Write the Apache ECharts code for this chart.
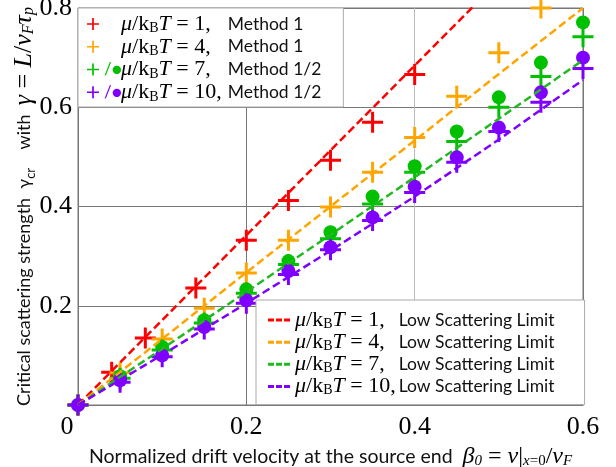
<html>
<head>
    <script src="https://cdn.jsdelivr.net/npm/echarts@6.0.0/dist/echarts.min.js"></script>
    <style>
        body { margin: 0 }
        #chart { width: 616px; height: 467px; }
    </style>
</head>
<body>
    <div id="chart"></div>
    <script>
        const chart = echarts.init(document.getElementById('chart'));

        // Method 1 crosses, mu/kBT = 1 (irregular x)
        const redX = [0, 0.04, 0.08, 0.14, 0.2, 0.25, 0.3, 0.35, 0.4];
        const redY = [0, 0.066, 0.135, 0.236, 0.332, 0.412, 0.493, 0.570, 0.666];

        // common beta grid for the other sets
        const betaX = [0, 0.05, 0.1, 0.15, 0.2, 0.25, 0.3, 0.35, 0.4, 0.45, 0.5, 0.55, 0.6];
        const orangeY = [0, 0.065, 0.133, 0.195, 0.266, 0.332, 0.399, 0.469, 0.539, 0.622, 0.710, 0.800];
        const greenCrossY = [0, 0.054, 0.111, 0.165, 0.225, 0.283, 0.335, 0.405, 0.469, 0.531, 0.600, 0.662, 0.742];
        const greenDotY = [0, 0.058, 0.117, 0.171, 0.233, 0.290, 0.348, 0.420, 0.481, 0.551, 0.620, 0.690, 0.771];
        const purpleCrossY = [0, 0.046, 0.097, 0.153, 0.205, 0.263, 0.313, 0.372, 0.428, 0.489, 0.551, 0.610, 0.678];
        const purpleDotY = [0, 0.050, 0.100, 0.157, 0.211, 0.270, 0.318, 0.378, 0.440, 0.499, 0.559, 0.630, 0.700];

        // low scattering limit curves
        const limitX = [0, 0.1, 0.2, 0.3, 0.4, 0.5, 0.6];
        const limitRed = [0, 0.171, 0.342, 0.513, 0.684, 0.855, 1.026];
        const limitOrange = [0, 0.133, 0.267, 0.400, 0.533, 0.667, 0.800];
        const limitGreen = [0, 0.113, 0.228, 0.343, 0.459, 0.577, 0.695];
        const limitPurple = [0, 0.101, 0.205, 0.311, 0.420, 0.535, 0.655];

        const RED = '#ff0000', ORANGE = '#ffa500', GREEN = '#00c000', PURPLE = '#8000ff';
        const serif = 'Liberation Serif';
        const sans = 'Lato';
        const plus = 'path://M9,0h3v9h9v3h-9v9h-3v-9h-9v-3h9z';
        const dashes = 'path://M0,0h6v3h-6z M8,0h6v3h-6z M16,0h6v3h-6z';

        const pair = (xs, ys) => ys.map((y, i) => [xs[i], y]);

        const legendRich = (lh, eW) => ({
            m: { fontFamily: serif, fontStyle: 'italic', fontSize: 22, lineHeight: lh, color: '#000' },
            r: { fontFamily: serif, fontSize: 22, lineHeight: lh, color: '#000' },
            b: { fontFamily: serif, fontSize: 14, lineHeight: 14, verticalAlign: 'bottom', color: '#000' },
            e: { fontFamily: serif, fontSize: 22, lineHeight: lh, width: eW, color: '#000' },
            t: { fontFamily: sans, fontSize: 17.5, lineHeight: lh, color: '#111' },
            w: { fontSize: 16, width: 17 },
            g: { fontFamily: sans, fontSize: 17, width: 17, color: GREEN },
            p: { fontFamily: sans, fontSize: 17, width: 17, color: PURPLE }
        });
        const mu = '{m|μ}{r|/k}{b|B}{m|T}';

        const topLabels = {
            'm1': '{w| }' + mu + '{e| = 1,}{t|Method 1}',
            'm4': '{w| }' + mu + '{e| = 4,}{t|Method 1}',
            'm7': '{g|/●}' + mu + '{e| = 7,}{t|Method 1/2}',
            'm10': '{p|/●}' + mu + '{e| = 10,}{t|Method 1/2}'
        };
        const bottomLabels = {
            'l1': mu + '{e| = 1,}{t|Low Scattering Limit}',
            'l4': mu + '{e| = 4,}{t|Low Scattering Limit}',
            'l7': mu + '{e| = 7,}{t|Low Scattering Limit}',
            'l10': mu + '{e| = 10,}{t|Low Scattering Limit}'
        };

        const crosses = (name, color, data) => ({
            name: name, type: 'scatter', data: data, symbol: plus, symbolSize: 21,
            itemStyle: { color: color, opacity: 1 }, z: 3
        });
        const dots = (name, color, data) => ({
            name: name, type: 'scatter', data: data, symbol: 'circle', symbolSize: 14,
            itemStyle: { color: color, opacity: 1 }, z: 4
        });
        const limit = (name, color, data) => ({
            name: name, type: 'line', data: data, symbol: 'none',
            lineStyle: { color: color, width: 2.5, type: [8, 4] },
            itemStyle: { color: color }, z: 5
        });

        const option = {
            animation: false,
            grid: {
                left: 78, right: 33, top: 8, bottom: 62,
                outerBoundsMode: 'none',
                show: true, borderColor: '#777', borderWidth: 1
            },
            xAxis: {
                type: 'value', min: 0, max: 0.6, interval: 0.2,
                axisLine: { lineStyle: { color: '#777' } },
                axisTick: { show: false },
                splitLine: { lineStyle: { color: ['#777', '#777', '#bbb', '#777'], width: 1 } },
                axisLabel: {
                    margin: 9,
                    fontFamily: serif, fontSize: 26, color: '#000',
                    formatter: v => v === 0 ? '{z|0}' : String(v),
                    rich: { z: { fontFamily: serif, fontSize: 26, color: '#000', padding: [0, 22, 0, 0] } }
                },
                name: '{s|Normalized drift velocity at the source end  }{m|β}{ms|0}{r| = }{m|v}{r||}{ms|x}{bs|=0}{r|/}{m|v}{ms|F}',
                nameLocation: 'middle',
                nameGap: 40,
                nameMoveOverlap: false,
                nameTextStyle: {
                    rich: {
                        s: { fontFamily: sans, fontSize: 19.5, lineHeight: 24, color: '#111' },
                        m: { fontFamily: serif, fontStyle: 'italic', fontSize: 24, lineHeight: 24, color: '#000' },
                        r: { fontFamily: serif, fontSize: 24, lineHeight: 24, color: '#000' },
                        ms: { fontFamily: serif, fontStyle: 'italic', fontSize: 15, lineHeight: 14, verticalAlign: 'bottom', color: '#000' },
                        bs: { fontFamily: serif, fontSize: 15, lineHeight: 14, verticalAlign: 'bottom', color: '#000' }
                    }
                }
            },
            yAxis: {
                type: 'value', min: 0, max: 0.8, interval: 0.2,
                axisLine: { show: true, lineStyle: { color: '#777' } },
                axisTick: { show: false },
                splitLine: { lineStyle: { color: '#777', width: 1 } },
                axisLabel: {
                    showMinLabel: false, margin: 6,
                    fontFamily: serif, fontSize: 26, color: '#000'
                },
                name: '{s|Critical scattering strength  γ}{ss|cr}{s|    with  }{m|γ}{r| = }{m|L}{r|/}{m|v}{ms|F}{m|τ}{ms|p}',
                nameLocation: 'middle',
                nameRotate: 90,
                nameGap: 41,
                nameMoveOverlap: false,
                nameTextStyle: {
                    rich: {
                        s: { fontFamily: sans, fontSize: 18, lineHeight: 26, color: '#111' },
                        ss: { fontFamily: sans, fontSize: 13, lineHeight: 14, verticalAlign: 'bottom', color: '#111' },
                        m: { fontFamily: serif, fontStyle: 'italic', fontSize: 26, lineHeight: 26, color: '#000' },
                        r: { fontFamily: serif, fontSize: 26, lineHeight: 26, color: '#000' },
                        ms: { fontFamily: serif, fontStyle: 'italic', fontSize: 16, lineHeight: 16, verticalAlign: 'bottom', color: '#000' }
                    }
                }
            },
            legend: [
                {
                    data: ['m1', 'm4', 'm7', 'm10'],
                    orient: 'vertical', left: 78, top: 8,
                    itemWidth: 12, itemHeight: 12, itemGap: 0,
                    padding: [5, 22, 3, 9],
                    backgroundColor: '#fff', borderColor: '#aaa', borderWidth: 1,
                    selectedMode: false,
                    formatter: name => topLabels[name],
                    textStyle: { rich: legendRich(23.5, 57) }
                },
                {
                    data: ['l1', 'l4', 'l7', 'l10'].map(n => ({ name: n, icon: dashes })),
                    orient: 'vertical', left: 256, top: 300,
                    itemWidth: 22, itemHeight: 3, itemGap: 0,
                    padding: [9, 30, 7, 12],
                    backgroundColor: '#fff', borderColor: '#aaa', borderWidth: 1,
                    selectedMode: false,
                    formatter: name => bottomLabels[name],
                    textStyle: { rich: legendRich(22.3, 54) }
                }
            ],
            series: [
                crosses('m1', RED, pair(redX, redY)),
                crosses('m4', ORANGE, pair(betaX, orangeY)),
                crosses('m7', GREEN, pair(betaX, greenCrossY)),
                crosses('m10', PURPLE, pair(betaX, purpleCrossY)),
                dots('d7', GREEN, pair(betaX, greenDotY)),
                dots('d10', PURPLE, pair(betaX, purpleDotY)),
                limit('l1', RED, pair(limitX, limitRed)),
                limit('l4', ORANGE, pair(limitX, limitOrange)),
                limit('l7', '#22b822', pair(limitX, limitGreen)),
                limit('l10', PURPLE, pair(limitX, limitPurple))
            ]
        };

        chart.setOption(option);
    </script>
</body>
</html>
